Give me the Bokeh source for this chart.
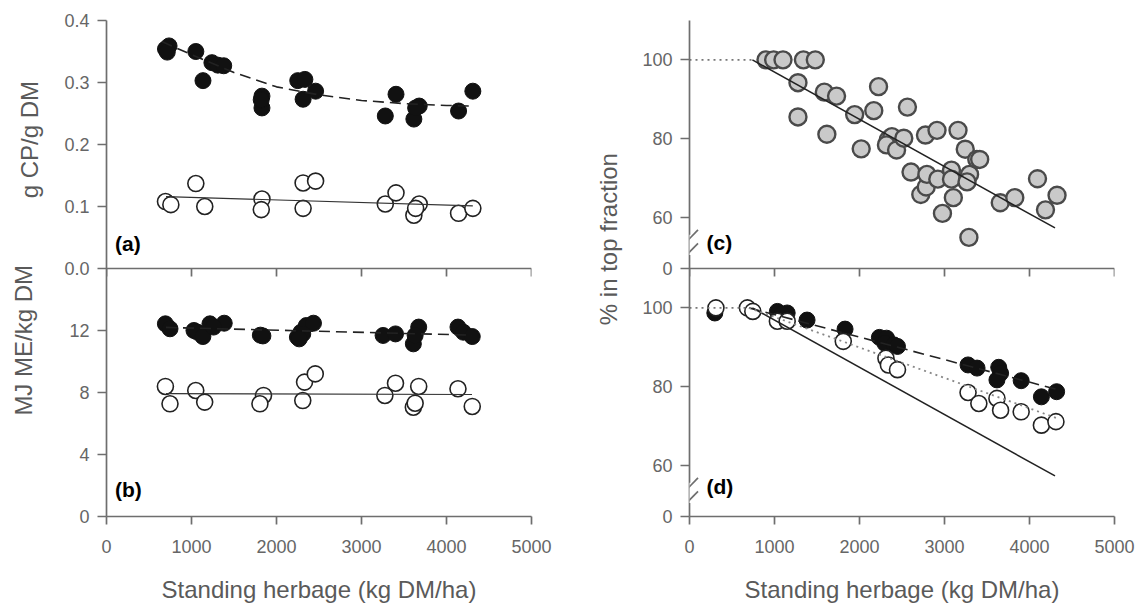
from math import pi
from bokeh.plotting import figure
from bokeh.models import Range1d, FixedTicker, Label, Arrow, Span
from bokeh.layouts import row
from bokeh.embed import file_html
from bokeh.resources import INLINE

FONT = "Liberation Sans"
TXT = "#666666"
AX = "#6e6e6e"
LAB = "#5a5a5a"
H = 608          # height of every figure
TOP = 20         # border above the frames
BOTTOM = H - TOP - 496

# ---------------- data ----------------
x_ticks = [0, 1000, 2000, 3000, 4000, 5000]

# (a) crude protein, g CP/g DM
a_fill_x = [694, 736, 715, 1051, 1135, 1240, 1310, 1379, 1829, 1829, 1820, 2250, 2334, 2313, 2460,
            3280, 3406, 3679, 3616, 3637, 4142, 4310]
a_fill_y = [0.354, 0.359, 0.349, 0.350, 0.303, 0.332, 0.328, 0.327, 0.278, 0.259, 0.272, 0.303, 0.305,
            0.273, 0.286, 0.246, 0.281, 0.262, 0.241, 0.259, 0.254, 0.286]
a_open_x = [694, 757, 1051, 1156, 1829, 1821, 2313, 2460, 2313, 3280, 3406, 3679, 3616, 3637, 4142, 4310]
a_open_y = [0.108, 0.103, 0.137, 0.100, 0.112, 0.095, 0.138, 0.141, 0.097, 0.104, 0.122, 0.104, 0.086,
            0.097, 0.089, 0.097]
a_fill_fit_x = [650, 1000, 1500, 2000, 2500, 3000, 3500, 4000, 4320]
a_fill_fit_y = [0.366, 0.345, 0.316, 0.293, 0.280, 0.271, 0.266, 0.263, 0.262]
a_open_fit_x = [700, 4310]
a_open_fit_y = [0.116, 0.101]
a_ticks = [0.0, 0.1, 0.2, 0.3, 0.4]
a_tick_labels = ["0.0", "0.1", "0.2", "0.3", "0.4"]

# (b) metabolisable energy, MJ ME/kg DM
b_fill_x = [693, 747, 1029, 1071, 1134, 1217, 1385, 1259, 1810, 1840, 2246, 2288, 2351, 2435, 2309, 2267,
            3254, 3400, 3673, 3610, 3631, 4135, 4198, 4303]
b_fill_y = [12.43, 12.11, 12.0, 11.89, 11.61, 12.43, 12.47, 12.22, 11.7, 11.65, 11.57, 11.89, 12.32, 12.47,
            11.78, 11.46, 11.68, 11.78, 12.22, 11.14, 11.68, 12.22, 11.89, 11.61]
b_open_x = [693, 747, 1050, 1155, 1847, 1805, 2309, 2330, 2456, 3275, 3400, 3673, 3610, 3631, 4135, 4303]
b_open_y = [8.39, 7.27, 8.13, 7.38, 7.81, 7.27, 7.48, 8.67, 9.2, 7.81, 8.6, 8.39, 7.05, 7.31, 8.24, 7.1]
b_fill_fit_x = [700, 4300]
b_fill_fit_y = [12.2, 11.7]
b_open_fit_x = [700, 4300]
b_open_fit_y = [7.93, 7.87]
b_ticks = [0, 4, 8, 12]
b_tick_labels = ["0", "4", "8", "12"]

# (c) % in top fraction
c_x = [900, 990, 1100, 1340, 1480, 1276, 1276, 1586, 1730, 1616, 1943, 2020, 2168, 2224, 2564,
       2338, 2381, 2317, 2436, 2521, 2606, 2776, 2912, 2721, 2785, 2793, 2921, 2976, 3082, 3082,
       3104, 3159, 3244, 3295, 3265, 3380, 3414, 3287, 3656, 3827, 4094, 4188, 4324]
c_y = [100, 100, 100, 100, 100, 94.2, 85.5, 91.8, 90.8, 81.1, 86.1, 77.4, 87.1, 93.2, 88.0,
       79.7, 80.5, 78.4, 77.1, 80.1, 71.5, 80.9, 82.1, 65.8, 67.7, 70.9, 69.7, 61.0, 72.0, 69.7,
       65.0, 82.1, 77.3, 70.9, 69.0, 74.7, 74.7, 54.9, 63.7, 65.0, 69.8, 61.9, 65.6]
c_plateau_x = [0, 740]
c_plateau_y = [100, 100]
c_fit_x = [740, 4300]
c_fit_y = [100, 57.3]

# (d)
d_fill_x = [298, 1034, 1149, 1085, 1383, 1830, 2234, 2319, 2298, 2404, 2447, 3277, 3383, 3638, 3660,
            3617, 3902, 4140, 4319]
d_fill_y = [98.7, 99.1, 98.7, 98.3, 96.9, 94.6, 92.5, 92.3, 91.0, 90.6, 90.2, 85.5, 84.7, 84.9, 83.4,
            81.7, 81.5, 77.4, 78.7]
d_open_x = [311, 681, 745, 1034, 1149, 1809, 2311, 2340, 2447, 3277, 3404, 3617, 3660, 3902, 4140, 4311]
d_open_y = [100, 100, 99.1, 96.6, 96.6, 91.5, 87.2, 85.5, 84.3, 78.5, 75.7, 77.0, 74.0, 73.6, 70.2, 71.1]
d_plateau_x = [0, 700]
d_plateau_y = [100, 100]
d_fill_fit_x = [700, 4320]
d_fill_fit_y = [100, 79.3]
d_open_fit_x = [700, 4320]
d_open_fit_y = [100, 72.0]
pct_ticks = [60, 80, 100]
pct_tick_labels = ["60", "80", "100"]
BREAK_BASE = 47   # axis position of the "0" shown below the axis break

# ---------------- ranges (each column = lower panel + upper panel) ----------------
B_RANGE = (0, 16)             # panel (b): lower half of the left frame
A_RANGE = (0.0, 0.4)          # panel (a): upper half
D_RANGE = (BREAK_BASE, 110)   # panel (d): lower half of the right frame
C_RANGE = (BREAK_BASE, 110)   # panel (c): upper half


def to_main(v, lower, upper):
    """position, in the lower panel's units, of value v of the upper panel"""
    return lower[1] + (v - upper[0]) * (lower[1] - lower[0]) / (upper[1] - upper[0])


def extra_range(lower, upper):
    span = upper[1] - upper[0]
    return Range1d(upper[0] - span, upper[1])


def style_axis(ax, ticks, overrides):
    ax.ticker = FixedTicker(ticks=ticks)
    if overrides:
        ax.major_label_overrides = overrides
    ax.axis_line_color = AX
    ax.axis_line_width = 1.7
    ax.major_tick_line_color = AX
    ax.major_tick_line_width = 1.7
    ax.major_tick_out = 9
    ax.major_tick_in = 0
    ax.minor_tick_line_color = None
    ax.major_label_text_font = FONT
    ax.major_label_text_font_size = "18px"
    ax.major_label_text_color = TXT
    ax.major_label_standoff = 8
    ax.axis_label_text_font = FONT
    ax.axis_label_text_font_size = "24px"
    ax.axis_label_text_font_style = "normal"
    ax.axis_label_text_color = LAB


def make_fig(lower, upper, left, right, low_ticks, low_labels, up_ticks, up_labels):
    p = figure(frame_width=425, frame_height=496, x_range=Range1d(0, 5000),
               y_range=Range1d(lower[0], lower[1] + (lower[1] - lower[0])),
               output_backend="svg", toolbar_location=None,
               min_border_left=left, min_border_right=right,
               min_border_top=TOP, min_border_bottom=BOTTOM)
    p.extra_y_ranges = {"up": extra_range(lower, upper)}
    p.outline_line_color = None
    p.grid.visible = False
    p.background_fill_color = "white"
    p.border_fill_color = "white"
    ticks, over = [], {}
    for t, lab in zip(low_ticks, low_labels):
        t = round(float(t), 6)
        ticks.append(t)
        over[t] = lab
    for t, lab in zip(up_ticks, up_labels):
        t = round(float(to_main(t, lower, upper)), 6)
        ticks.append(t)
        over[t] = lab
    style_axis(p.yaxis[0], ticks, over)
    xa = p.xaxis[0]
    style_axis(xa, x_ticks, None)
    xa.major_tick_out = 8
    xa.major_label_standoff = 15
    xa.axis_label = "Standing herbage (kg DM/ha)"
    xa.axis_label_standoff = 20
    # base line of the upper panel, with its ticks pointing down
    mid = lower[1]
    p.add_layout(Span(location=mid, dimension="width", line_color=AX, line_width=1.7))
    tick_len = 8 * (lower[1] - lower[0]) / 248.0
    p.segment(x0=x_ticks, y0=[mid] * len(x_ticks), x1=x_ticks, y1=[mid - tick_len] * len(x_ticks),
              line_color=AX, line_width=1.7)
    return p


def label_fig(width, x0):
    f = figure(width=width, height=H, x_range=Range1d(x0, x0 + width), y_range=Range1d(0, H),
               output_backend="svg", toolbar_location=None, x_axis_location=None,
               y_axis_location=None, min_border=0)
    f.outline_line_color = None
    f.grid.visible = False
    return f


def y_label(f, x, y_page, t):
    f.add_layout(Label(x=x, y=H - y_page, text=t, angle=pi / 2, text_font=FONT,
                       text_font_size="24px", text_color=LAB,
                       text_align="center", text_baseline="middle"))


def panel_label(p, x, y, t, rng="default"):
    p.add_layout(Label(x=x, y=y, y_range_name=rng, text=t, text_font=FONT, text_font_style="bold",
                       text_font_size="21px", text_color="black",
                       text_align="left", text_baseline="middle"))


def axis_break(p, rng):
    lo = to_main(51.0, D_RANGE, C_RANGE) if rng == "up" else 51.0
    p.add_layout(Arrow(x_start=0, y_start=lo - 0.6, x_end=0, y_end=lo + 4.6, start=None, end=None,
                       line_color="white", line_width=5))
    for yc in (lo + 0.2, lo + 3.6):
        p.add_layout(Arrow(x_start=-100, y_start=yc - 2.2, x_end=100, y_end=yc + 2.2,
                           start=None, end=None, line_color=AX, line_width=1.7))


def filled(p, x, y, rng="default"):
    p.scatter(x, y, y_range_name=rng, size=16, marker="circle", fill_color="#111111",
              line_color="#111111", line_width=1)


def opened(p, x, y, rng="default"):
    p.scatter(x, y, y_range_name=rng, size=16, marker="circle", fill_color="white",
              line_color="#222222", line_width=1.6)


# ---------------- left column: (a) over (b) ----------------
pl = make_fig(B_RANGE, A_RANGE, 56, 49, b_ticks, b_tick_labels, a_ticks, a_tick_labels)
filled(pl, a_fill_x, a_fill_y, "up")
opened(pl, a_open_x, a_open_y, "up")
pl.line(a_fill_fit_x, a_fill_fit_y, y_range_name="up", line_color="#222222", line_width=1.6,
        line_dash="11 6")
pl.line(a_open_fit_x, a_open_fit_y, y_range_name="up", line_color="#333333", line_width=1.2)
panel_label(pl, 100, 0.041, "(a)", "up")

filled(pl, b_fill_x, b_fill_y)
opened(pl, b_open_x, b_open_y)
pl.line(b_fill_fit_x, b_fill_fit_y, line_color="#222222", line_width=1.6, line_dash="11 6")
pl.line(b_open_fit_x, b_open_fit_y, line_color="#333333", line_width=1.2)
panel_label(pl, 100, 1.75, "(b)")

# ---------------- right column: (c) over (d) ----------------
pr = make_fig(D_RANGE, C_RANGE, 53, 30, [BREAK_BASE] + pct_ticks, ["0"] + pct_tick_labels,
              [BREAK_BASE] + pct_ticks, ["0"] + pct_tick_labels)
pr.scatter(c_x, c_y, y_range_name="up", size=17, marker="circle", fill_color="#c9c9c9",
           line_color="#4a4a4a", line_width=2.4)
pr.line(c_plateau_x, c_plateau_y, y_range_name="up", line_color="#777777", line_width=1.8,
        line_dash="2 4")
pr.line(c_fit_x, c_fit_y, y_range_name="up", line_color="#222222", line_width=1.5)
axis_break(pr, "up")
panel_label(pr, 200, 53.7, "(c)", "up")

filled(pr, d_fill_x, d_fill_y)
opened(pr, d_open_x, d_open_y)
pr.line(d_plateau_x, d_plateau_y, line_color="#777777", line_width=1.8, line_dash="2 4")
pr.line(c_fit_x, c_fit_y, line_color="#222222", line_width=1.5)
pr.line(d_fill_fit_x, d_fill_fit_y, line_color="#222222", line_width=1.6, line_dash="11 6")
pr.line(d_open_fit_x, d_open_fit_y, line_color="#888888", line_width=1.8, line_dash="2 4")
axis_break(pr, "default")
panel_label(pr, 200, 54.6, "(d)")

# ---------------- vertical axis titles ----------------
ll = label_fig(50, 0)
y_label(ll, 29, 146, "g CP/g DM")
y_label(ll, 23, 392, "MJ ME/kg DM")
lr = label_fig(56, 580)
y_label(lr, 608, 268, "% in top fraction")

layout = row(ll, pl, lr, pr)
open("out.html", "w").write(file_html(layout, INLINE))
